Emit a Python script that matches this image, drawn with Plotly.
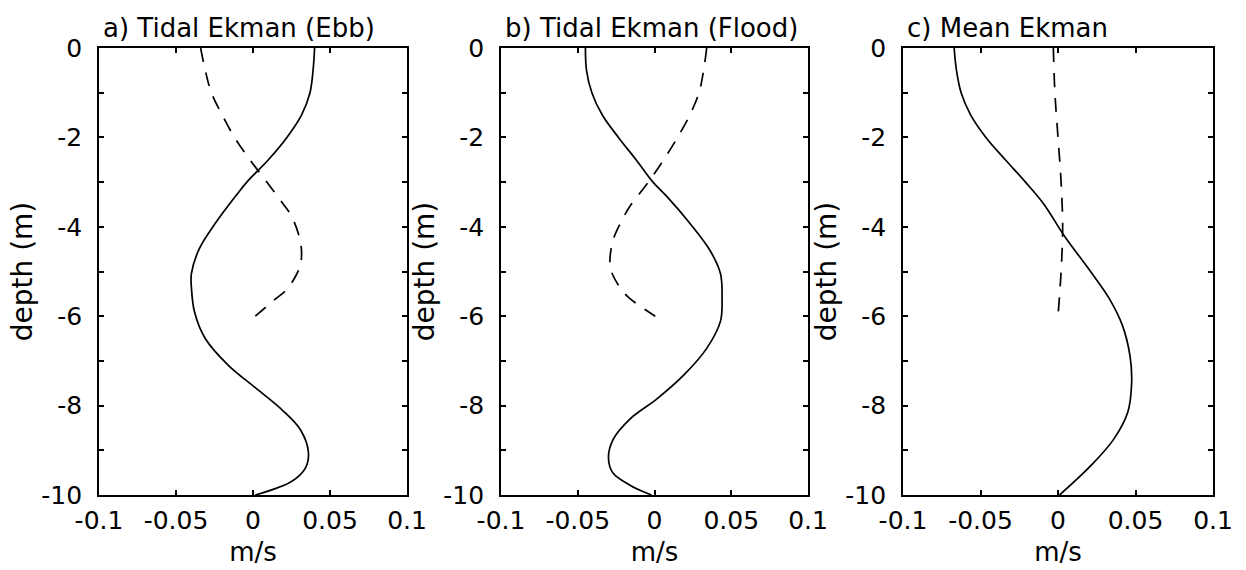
import plotly.graph_objects as go

# ---------------- data ----------------
depth_a_solid = [0, -0.5, -1, -1.5, -2, -2.5, -3, -3.3, -3.9, -4.5, -5.05, -5.35, -5.9, -6.5, -7.1, -7.6, -8.1, -8.55, -9.05, -9.4, -9.7, -10]
vel_a_solid = [0.040, 0.039, 0.037, 0.0315, 0.022, 0.010, -0.004, -0.011, -0.024, -0.035, -0.040, -0.040, -0.038, -0.031, -0.016, 0.0015, 0.019, 0.031, 0.036, 0.034, 0.025, 0.0015]
depth_a_dash = [0, -0.5, -1, -1.5, -2, -2.5, -3, -3.46, -3.76, -4.37, -4.83, -5.05, -5.4, -5.66, -6]
vel_a_dash = [-0.034, -0.031, -0.027, -0.020, -0.012, -0.002, 0.009, 0.019, 0.025, 0.031, 0.031, 0.0285, 0.022, 0.013, 0.0015]

depth_b_solid = [0, -0.5, -1, -1.5, -2, -2.5, -3, -3.32, -3.92, -4.52, -5.05, -5.58, -6.11, -6.72, -7.32, -7.85, -8.3, -8.76, -9.17, -9.51, -9.78, -10]
vel_b_solid = [-0.045, -0.0443, -0.0408, -0.0340, -0.0235, -0.012, -0.001, 0.008, 0.023, 0.036, 0.043, 0.044, 0.043, 0.034, 0.019, 0.0016, -0.016, -0.027, -0.030, -0.027, -0.016, -0.002]
depth_b_dash = [0, -0.5, -1, -1.5, -2, -2.5, -3, -3.54, -3.84, -4.3, -4.83, -5.09, -5.47, -5.66, -6]
vel_b_dash = [0.034, 0.032, 0.029, 0.023, 0.015, 0.006, -0.004, -0.016, -0.021, -0.027, -0.029, -0.027, -0.020, -0.014, 0.0005]

depth_c_solid = [0, -0.5, -1, -1.5, -2, -2.5, -3, -3.5, -4.2, -5, -5.6, -6.2, -6.9, -7.5, -8.15, -8.75, -9.35, -10]
vel_c_solid = [-0.067, -0.0655, -0.0625, -0.0563, -0.0465, -0.034, -0.021, -0.009, 0.004, 0.021, 0.033, 0.0415, 0.0465, 0.0475, 0.045, 0.036, 0.021, 0.001]
depth_c_dash = [0, -1, -2, -3, -4, -5, -6]
vel_c_dash = [-0.003, -0.002, 0.000, 0.002, 0.003, 0.002, 0.000]

panel_titles = ["a) Tidal Ekman (Ebb)", "b) Tidal Ekman (Flood)", "c) Mean Ekman"]
x_tickvals = [-0.1, -0.05, 0, 0.05, 0.1]
x_ticktext = ["-0.1", "-0.05", "0", "0.05", "0.1"]
y_tickvals = [0, -2, -4, -6, -8, -10]
y_ticktext = ["0", "-2", "-4", "-6", "-8", "-10"]

# ---------------- figure ----------------
W, H = 1246, 570
FONT = "DejaVu Sans, sans-serif"
x_domains = [(99 / W, 407 / W), (501 / W, 808 / W), (903 / W, 1213 / W)]
y_domain = (1 - 495 / H, 1 - 48 / H)

fig = go.Figure()
series = [
    (vel_a_solid, depth_a_solid, vel_a_dash, depth_a_dash),
    (vel_b_solid, depth_b_solid, vel_b_dash, depth_b_dash),
    (vel_c_solid, depth_c_solid, vel_c_dash, depth_c_dash),
]
for i, (xs, ys, xd, yd) in enumerate(series):
    suffix = "" if i == 0 else str(i + 1)
    fig.add_trace(go.Scatter(x=xs, y=ys, mode="lines", xaxis="x" + suffix, yaxis="y" + suffix,
                             line=dict(color="black", width=1.7, shape="spline", smoothing=1.0),
                             showlegend=False))
    fig.add_trace(go.Scatter(x=xd, y=yd, mode="lines", xaxis="x" + suffix, yaxis="y" + suffix,
                             line=dict(color="black", width=1.7, dash="14px,11px", shape="spline", smoothing=1.0),
                             showlegend=False))

axis_common = dict(showline=True, linecolor="black", linewidth=1.8, mirror="ticks",
                   ticks="inside", ticklen=5, tickwidth=1.5, tickcolor="black",
                   showgrid=False, zeroline=False, automargin=False,
                   tickfont=dict(family=FONT, size=25, color="black"))

layout = dict(width=W, height=H, margin=dict(l=0, r=0, t=0, b=0),
              paper_bgcolor="white", plot_bgcolor="white",
              font=dict(family=FONT, color="black"), annotations=[])
for i in range(3):
    suffix = "" if i == 0 else str(i + 1)
    layout["xaxis" + suffix] = dict(
        axis_common, domain=list(x_domains[i]), range=[-0.1, 0.1],
        anchor="y" + suffix, tickvals=x_tickvals, ticktext=x_ticktext,
        ticklabelstandoff=2,
        title=dict(text="m/s", font=dict(family=FONT, size=26, color="black"), standoff=9))
    layout["yaxis" + suffix] = dict(
        axis_common, domain=list(y_domain), range=[-10, 0],
        anchor="x" + suffix, tickvals=y_tickvals, ticktext=y_ticktext,
        ticklabelstandoff=10,
        minor=dict(dtick=1, tick0=0, ticks="inside", ticklen=5, tickwidth=1.5, tickcolor="black"),
        title=dict(text="depth (m)", font=dict(family=FONT, size=28, color="black"), standoff=0))
    layout["annotations"].append(dict(
        text=panel_titles[i], xref="paper", yref="paper",
        x=x_domains[i][0], y=y_domain[1], xanchor="left", yanchor="bottom",
        xshift=2, yshift=3, showarrow=False,
        font=dict(family=FONT, size=26, color="black")))

fig.update_layout(**layout)
fig.write_html("out.html")
